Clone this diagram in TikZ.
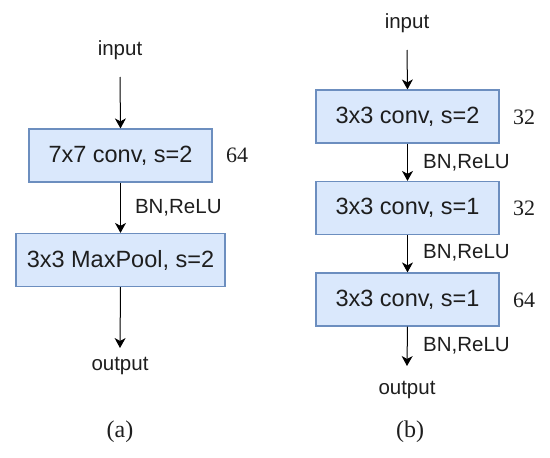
\documentclass[tikz,border=0pt]{standalone}
\usepackage{fontspec}
\setmainfont{Liberation Serif}
\newfontfamily\arialf{Liberation Sans}
\usetikzlibrary{arrows.meta}
\definecolor{boxfill}{HTML}{DAE8FC}
\definecolor{boxdraw}{HTML}{6C8EBF}
\definecolor{txt}{HTML}{1E1E1E}
\begin{document}
\begin{tikzpicture}[x=1pt,y=-1pt,
  blk/.style={draw=boxdraw,fill=boxfill,line width=1.2pt,minimum height=53pt,inner sep=0pt,font=\arialf\fontsize{23.5}{27}\selectfont,text=txt},
  lbl/.style={font=\arialf\fontsize{20.5}{24}\selectfont,text=txt,inner sep=0pt},
  num/.style={font=\fontsize{22}{26}\selectfont,text=txt,inner sep=0pt},
  captxt/.style={font=\fontsize{24}{28}\selectfont,text=txt,inner sep=0pt},
  arr/.style={draw=black,line width=1pt,-{Stealth[length=10pt,width=11pt,inset=3pt]}}]
\useasboundingbox (0,0) rectangle (550,458);
% (a)
\node[lbl] (ain) at (120,50) {input};
\node[blk,minimum width=183pt] (a1) at (120.5,155.5) {7x7 conv, s=2};
\node[num] (an1) at (237,155) {64};
\node[blk,minimum width=209pt] (a2) at (120.5,260) {3x3 MaxPool, s=2};
\coordinate (aend) at (120,348);
\node[lbl] (aout) at (120,366) {output};
\node[captxt] (acap) at (120,432) {(a)};
\draw[arr] (120,77) -- (a1.north);
\draw[arr] (a1.south) -- (a2.north) node[lbl,pos=0.5,right=14pt] (abn) {BN,ReLU};
\draw[arr] (a2.south) -- (aend);
% (b)
\node[lbl] (bin) at (407,23) {input};
\node[blk,minimum width=183pt] (b1) at (407.5,116.5) {3x3 conv, s=2};
\node[num] (bn1) at (524,117) {32};
\node[blk,minimum width=183pt] (b2) at (407.5,208) {3x3 conv, s=1};
\node[num] (bn2) at (524,208) {32};
\node[blk,minimum width=183pt] (b3) at (407.5,299.5) {3x3 conv, s=1};
\node[num] (bn3) at (524,300) {64};
\coordinate (bend) at (407,366);
\node[lbl] (bout) at (407,390) {output};
\node[captxt] (bcap) at (410,432) {(b)};
\draw[arr] (407,50) -- (b1.north);
\draw[arr] (b1.south) -- (b2.north);
\node[lbl,anchor=west] (bbn1) at (423,163) {BN,ReLU};
\draw[arr] (b2.south) -- (b3.north);
\node[lbl,anchor=west] (bbn2) at (423,253) {BN,ReLU};
\draw[arr] (b3.south) -- (bend);
\node[lbl,anchor=west] (bbn3) at (423,346) {BN,ReLU};
\end{tikzpicture}
\end{document}
